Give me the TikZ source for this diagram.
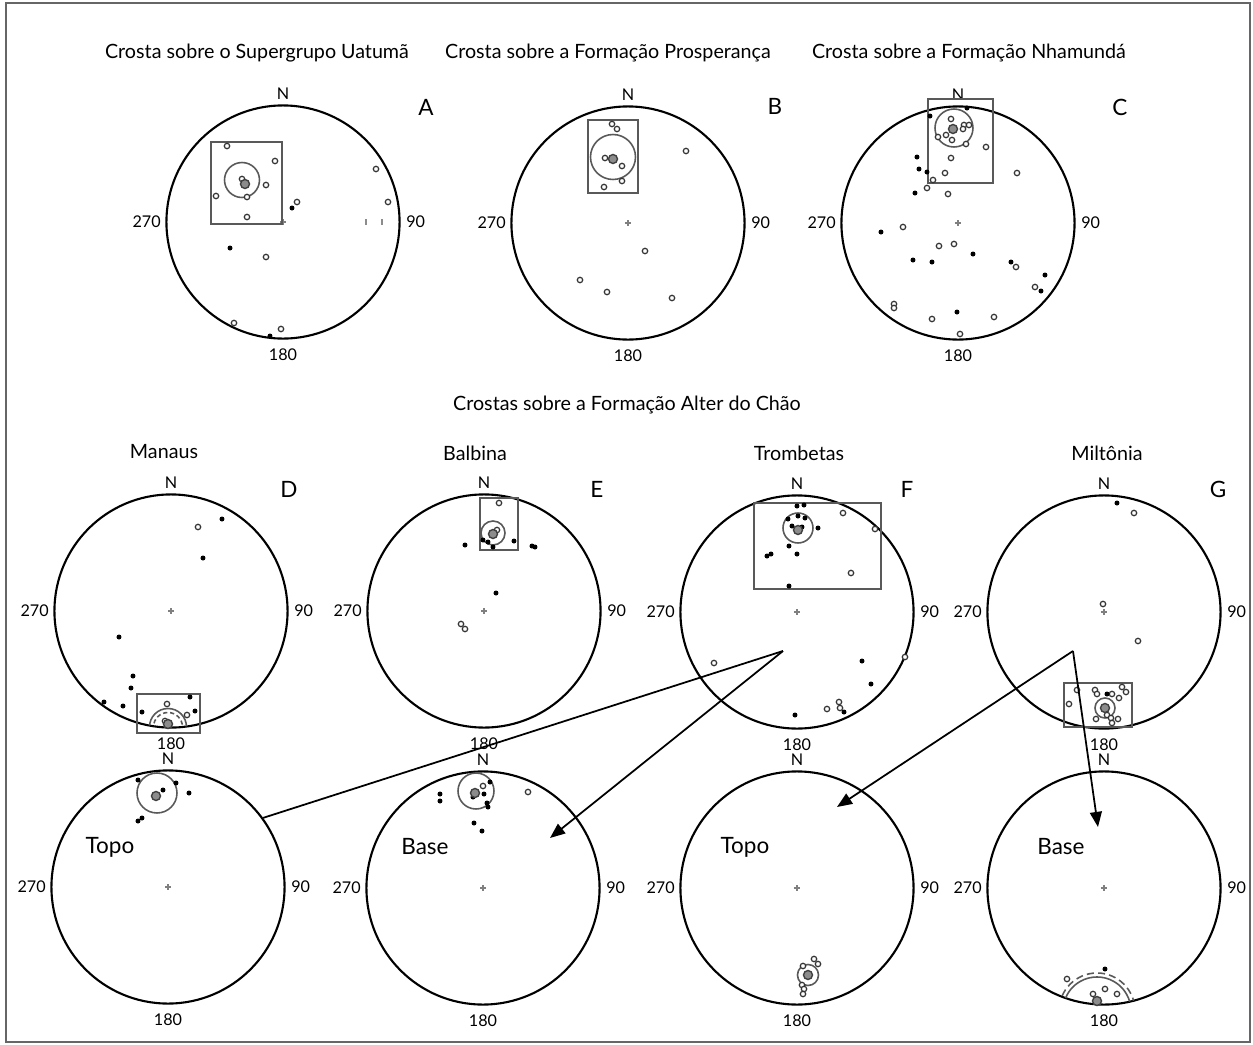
\documentclass[tikz,border=0pt]{standalone}
\usepackage{fontspec}
\setmainfont{Lato}
\usetikzlibrary{positioning,arrows.meta}

\tikzset{
  net/.style={circle, draw, line width=0.6pt, minimum size=2.33cm, inner sep=0pt},
  lbl/.style={font=\fontsize{4.6}{5}\selectfont, inner sep=0pt},
  ttl/.style={font=\fontsize{5.6}{6}\selectfont, inner sep=0pt, anchor=base},
  tag/.style={font=\fontsize{6.4}{7}\selectfont, inner sep=0pt},
  opn/.style={draw=black!80, line width=0.35pt, fill=white},
  fll/.style={fill=black},
  mean/.style={draw=black!75, fill=black!45, line width=0.4pt},
  cone/.style={draw=black!65, line width=0.45pt},
  zbox/.style={draw=black!65, line width=0.6pt},
  crs/.style={draw=black!50, line width=0.3pt},
  lnk/.style={line width=0.5pt},
  tip/.style={-{Triangle[length=4.3pt,width=3.4pt]}},
}

\begin{document}
\begin{tikzpicture}[x=0.01cm, y=-0.01cm]
		%%%%% START %%%%%
		\useasboundingbox (0,0) rectangle (1253,1045);
		\draw[black!60, line width=0.5pt] (6,3) rectangle (1250,1042);
		
		% titles
		\node[ttl] (tUatuma) at (257,58) {Crosta sobre o Supergrupo Uatumã};
		\node[ttl] (tProsp) at (608,58) {Crosta sobre a Formação Prosperança};
		\node[ttl] (tNhamunda) at (969,58) {Crosta sobre a Formação Nhamundá};
		\node[ttl] (tAlter) at (627,410) {Crostas sobre a Formação Alter do Chão};
		\node[ttl] (tManaus) at (164,458) {Manaus};
		\node[ttl] (tBalbina) at (475,460) {Balbina};
		\node[ttl] (tTromb) at (799,460) {Trombetas};
		\node[ttl] (tMilt) at (1107,460) {Miltônia};
		
		% nets
		\node[net] (netA) at (283,222) {};
		\node[net] (netB) at (628,223) {};
		\node[net] (netC) at (958,223) {};
		\node[net] (netD) at (171,611) {};
		\node[net] (netE) at (484,611) {};
		\node[net] (netF) at (797,612) {};
		\node[net] (netG) at (1104,612) {};
		\node[net] (netH) at (168,887) {};
		\node[net] (netI) at (483,888) {};
		\node[net] (netJ) at (797,888) {};
		\node[net] (netK) at (1104,888) {};
		
		\foreach \n in {A,B,C,D,E,F,G,H,I,J,K} {
			\node[lbl, above=0.04cm of net\n] (nrt\n) {N};
			\node[lbl, left=0.04cm of net\n] (wst\n) {270};
			\node[lbl, right=0.05cm of net\n] (est\n) {90};
			\node[lbl, below=0.08cm of net\n] (sth\n) {180};
			\draw[crs] (net\n.center) +(-3,0) -- +(3,0) +(0,-3) -- +(0,3);
		}
		
		\node[tag] (tagA) at (426,107) {A};
		\node[tag] (tagB) at (775,106) {B};
		\node[tag] (tagC) at (1120,107) {C};
		\node[tag] (tagD) at (289,489) {D};
		\node[tag] (tagE) at (597,489) {E};
		\node[tag] (tagF) at (907,489) {F};
		\node[tag] (tagG) at (1218,489) {G};
		
		\node[tag] (topoH) at (110,847) {Topo};
		\node[tag] (baseI) at (425,847) {Base};
		\node[tag] (topoJ) at (745,847) {Topo};
		\node[tag] (baseK) at (1061,847) {Base};
		
		% A
		\draw[zbox] (211,142) rectangle (282,224);
		\draw[cone] (242,180) circle (17.5);
		\foreach \p in {(227,146),(275,161),(242,179),(266,185),(216,196),(247,197),(247,217),(297,202),(376,169),(388,202),(266,257),(234,323),(281,329)}
			\draw[opn] \p circle (2.7);
		\foreach \p in {(292,208),(230,248),(270,336)}
			\fill[fll] \p circle (2.5);
		\draw[mean] (245,184) circle (4.5);
		\draw[black!45, line width=0.4pt] (366,219) -- (366,225) (382,219) -- (382,225);
		
		% B
		\draw[zbox] (588,120) rectangle (638,193);
		\draw[cone] (613,157) circle (22.5);
		\foreach \p in {(612,124),(617,129),(605,158),(622,166),(622,181),(604,187),(686,151),(645,251),(580,280),(607,292),(672,298)}
			\draw[opn] \p circle (2.7);
		\draw[mean] (613,159) circle (4.5);
		
		% C
		\draw[zbox] (928,99) rectangle (993,183);
		\draw[cone] (954,128) circle (19);
		\foreach \p in {(951,119),(964,125),(969,125),(963,129),(938,137),(946,135),(952,140),(966,144),(986,147),(951,158),(945,173),(933,180),(927,188),(948,194),(1017,173),(903,227),(939,246),(954,244),(1016,267),(1035,287),(894,304),(894,308),(932,319),(994,317),(960,334)}
			\draw[opn] \p circle (2.7);
		\foreach \p in {(967,108),(930,116),(917,157),(919,169),(927,172),(915,193),(881,232),(913,260),(932,262),(973,254),(1011,262),(1045,275),(1041,291),(957,312)}
			\fill[fll] \p circle (2.5);
		\draw[mean] (953,129) circle (4.5);
		
		% D
		\draw[zbox] (137,694) rectangle (200,733);
		\begin{scope}
			\clip (171,611) circle (116.5);
			\draw[cone] (168,727) circle (18.5);
			\draw[cone, dash pattern=on 1.2pt off 0.8pt] (168,727) circle (14.5);
		\end{scope}
		\foreach \p in {(198,527),(167,704),(187,715),(165,721)}
			\draw[opn] \p circle (2.7);
		\foreach \p in {(222,519),(203,558),(119,637),(133,676),(131,688),(104,702),(123,706),(142,712),(190,697),(195,711)}
			\fill[fll] \p circle (2.5);
		\draw[mean] (168,724) circle (4.5);
		
		% E
		\draw[zbox] (480,498) rectangle (518,550);
		\draw[cone] (493,533) circle (12);
		\foreach \p in {(499,503),(461,624),(465,629),(497,530)}
			\draw[opn] \p circle (2.7);
		\foreach \p in {(465,545),(483,540),(488,542),(493,547),(514,541),(532,546),(535,547),(496,593)}
			\fill[fll] \p circle (2.5);
		\draw[mean] (493,534) circle (4.5);
		
		% F
		\draw[zbox] (754,503) rectangle (881,589);
		\draw[cone] (798,528) circle (15);
		\foreach \p in {(843,513),(875,529),(851,573),(714,663),(905,657),(839,702),(840,708),(827,709)}
			\draw[opn] \p circle (2.7);
		\foreach \p in {(797,506),(804,505),(798,516),(788,519),(805,518),(792,526),(802,527),(818,528),(789,546),(767,556),(771,554),(797,554),(789,586),(862,661),(871,684),(795,715),(844,712)}
			\fill[fll] \p circle (2.5);
		\draw[mean] (798,530) circle (4.5);
		
		% G
		\draw[zbox] (1064,683) rectangle (1132,727);
		\draw[cone] (1105,708) circle (10);
		\foreach \p in {(1134,513),(1103,604),(1138,641),(1077,690),(1069,704),(1095,690),(1097,694),(1112,694),(1119,698),(1122,687),(1126,692),(1107,715),(1111,718),(1118,719),(1096,719),(1112,723)}
			\draw[opn] \p circle (2.7);
		\foreach \p in {(1117,503),(1107,694)}
			\fill[fll] \p circle (2.5);
		\draw[mean] (1105,708) circle (4.5);
		
		% H (topo)
		\draw[cone] (157,793) circle (20);
		\foreach \p in {(163,790),(138,780),(176,783),(189,793),(138,821),(142,818)}
			\fill[fll] \p circle (2.5);
		\draw[mean] (156,796) circle (4.5);
		
		% I (base)
		\draw[cone] (476,791) circle (18);
		\foreach \p in {(483,786),(528,792)}
			\draw[opn] \p circle (2.7);
		\foreach \p in {(490,782),(484,794),(473,797),(487,803),(488,807),(440,794),(440,801),(474,823),(482,831)}
			\fill[fll] \p circle (2.5);
		\draw[mean] (475,793) circle (4.5);
		
		% J (topo)
		\draw[cone] (808,975) circle (10.5);
		\foreach \p in {(814,959),(818,964),(803,966),(802,985),(804,989),(803,994)}
			\draw[opn] \p circle (2.7);
		\draw[mean] (808,975) circle (4.5);
		
		% K (base)
		\begin{scope}
			\clip (1104,888) circle (116.5);
			\draw[cone] (1097,1011) circle (34);
			\draw[cone, dash pattern=on 2pt off 1.2pt] (1097,1011) circle (38);
		\end{scope}
		\foreach \p in {(1067,979),(1093,994),(1105,989),(1117,994)}
			\draw[opn] \p circle (2.7);
		\fill[fll] (1105,969) circle (2.5);
		\draw[mean] (1097,1001) circle (4.5);
		
		% links
		\coordinate (fSrc) at (783,651);
		\coordinate (gSrc) at (1073,651);
		\coordinate (iTip) at (550,838);
		\coordinate (jTip) at (837,807);
		\coordinate (kTip) at (1098,827);
		\draw[lnk] (fSrc) -- (netH.36);
		\draw[lnk, tip] (fSrc) -- (iTip);
		\draw[lnk, tip] (gSrc) -- (jTip);
		\draw[lnk, tip] (gSrc) -- (kTip);
		%%%%% END %%%%%
\end{tikzpicture}
\end{document}
